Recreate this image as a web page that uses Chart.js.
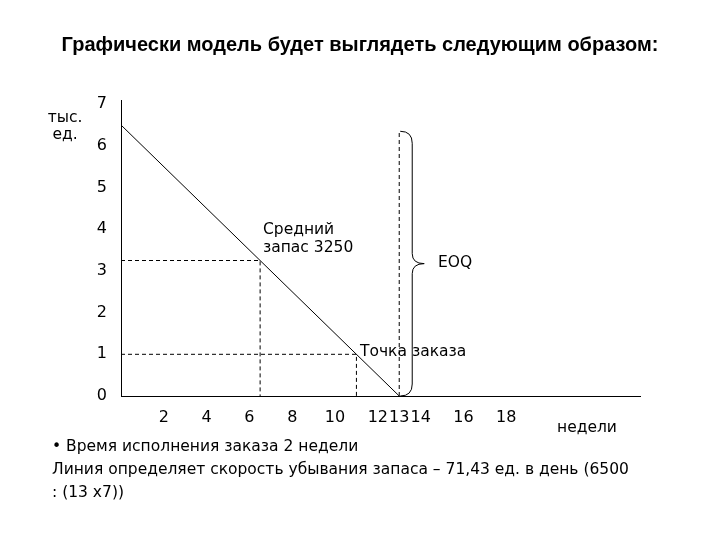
<!DOCTYPE html><html><head><meta charset="utf-8">
<script src="https://cdn.jsdelivr.net/npm/chart.js@4"></script>
<style>body{margin:0;background:#fff}#w{width:720px;height:540px}</style></head><body><div id="w"><canvas id="c"></canvas></div>
<script>
const xTicks=[2,4,6,8,10,12,13,14,16,18];
const yTicks=[0,1,2,3,4,5,6,7];
const stockLine=[{x:0,y:6.5},{x:13,y:0}];
const avgStock=[{x:0,y:3.25},{x:6.5,y:3.25},{x:6.5,y:0}];
const reorder=[{x:0,y:1},{x:11,y:1},{x:11,y:0}];
const eoqLine=[{x:13,y:0},{x:13,y:6.35}];
const F='"DejaVu Sans", Verdana, sans-serif';
const ds=(d,dash,w)=>({data:d,borderColor:'#000',borderWidth:w,borderDash:dash,pointRadius:0,showLine:true,fill:false,tension:0});
const deco={id:'deco',afterDraw(ch){const c=ch.ctx,xs=ch.scales.x,ys=ch.scales.y;c.save();c.fillStyle='#000';
c.font='bold 20px "Liberation Sans", Arial, sans-serif';c.textAlign='center';c.textBaseline='middle';
c.fillText('Графически модель будет выглядеть следующим образом:',360,45);
c.font='15.5px '+F;c.fillText('тыс.',65,118);c.fillText('ед.',65,135);
c.textAlign='left';c.fillText('Средний',263,230);c.fillText('запас 3250',263,248);
c.fillText('EOQ',438,263);c.fillText('Точка заказа',360,352);c.fillText('недели',557,428);
c.fillText('• Время исполнения заказа 2 недели',52,447);
c.fillText('Линия определяет скорость убывания запаса – 71,43 ед. в день (6500',52,470);
c.fillText(': (13 x7))',52,493);
const x0=xs.getPixelForValue(13)+1,t=ys.getPixelForValue(6.35),b=ys.getPixelForValue(0),m=(t+b)/2,w=12;
c.strokeStyle='#000';c.lineWidth=1;c.beginPath();
c.moveTo(x0,t);c.quadraticCurveTo(x0+w,t,x0+w,t+12);c.lineTo(x0+w,m-10);c.quadraticCurveTo(x0+w,m,x0+2*w,m);
c.quadraticCurveTo(x0+w,m,x0+w,m+10);c.lineTo(x0+w,b-12);c.quadraticCurveTo(x0+w,b,x0,b);c.stroke();
c.restore();}};
new Chart(document.getElementById('c'),{type:'scatter',data:{datasets:[ds(stockLine,[],1),ds(avgStock,[4,3],1),ds(reorder,[4,3],1),ds(eoqLine,[4,3],1)]},
options:{responsive:true,maintainAspectRatio:false,animation:false,layout:{padding:{left:0,top:100,right:80,bottom:0}},
plugins:{legend:{display:false},tooltip:{enabled:false}},
scales:{x:{type:'linear',min:0,max:24.25,afterFit(s){s.height=144},afterBuildTicks(s){s.ticks=xTicks.map(v=>({value:v}))},
grid:{display:false},border:{color:'#000',width:1},ticks:{color:'#000',font:{family:F,size:16},padding:4,maxRotation:0,autoSkip:false}},
y:{type:'linear',min:0,max:7.1,afterFit(s){s.width=121},afterBuildTicks(s){s.ticks=yTicks.map(v=>({value:v}))},
grid:{display:false},border:{color:'#000',width:1},ticks:{color:'#000',font:{family:F,size:16},padding:6}}}},plugins:[deco]});
</script></body></html>
